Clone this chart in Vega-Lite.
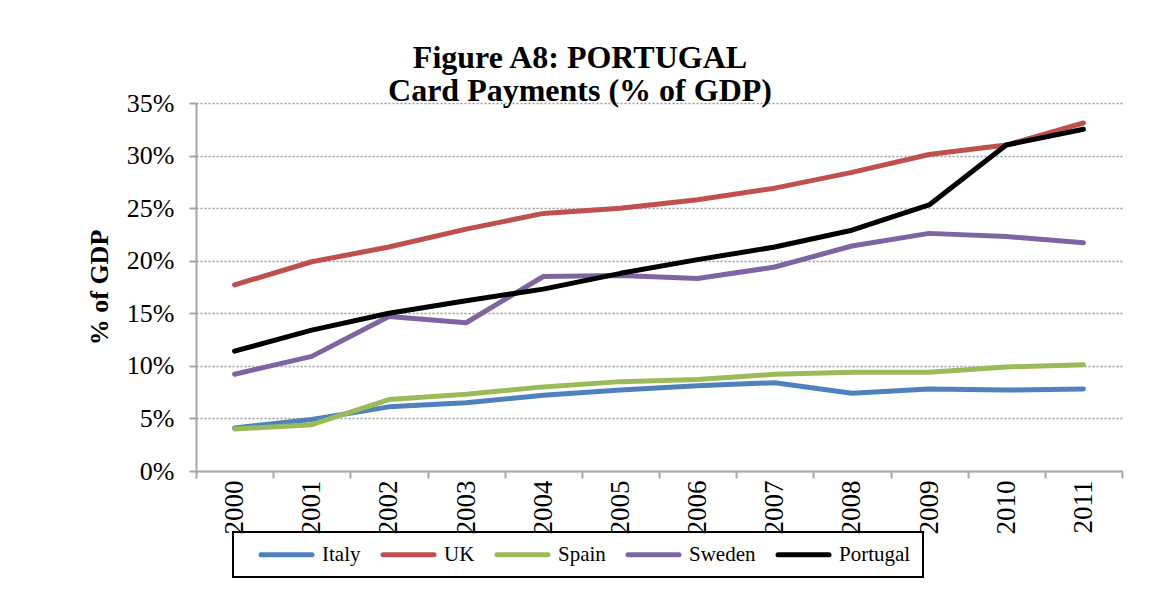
{
  "$schema": "https://vega.github.io/schema/vega-lite/v6.json",
  "width": 926,
  "height": 368,
  "autosize": {"type": "none"},
  "padding": {"left": 196, "top": 103, "right": 29, "bottom": 124},
  "background": "white",
  "title": {
    "text": ["Figure A8: PORTUGAL", "Card Payments (% of GDP)"],
    "font": "Liberation Serif",
    "fontSize": 32,
    "fontWeight": "bold",
    "color": "black",
    "anchor": "middle",
    "offset": -18,
    "lineHeight": 33,
    "dx": -79
  },
  "data": {
    "values": [
      {"year": "2000", "country": "Italy", "v": 4.1},
      {"year": "2001", "country": "Italy", "v": 4.9},
      {"year": "2002", "country": "Italy", "v": 6.1},
      {"year": "2003", "country": "Italy", "v": 6.5},
      {"year": "2004", "country": "Italy", "v": 7.2},
      {"year": "2005", "country": "Italy", "v": 7.7},
      {"year": "2006", "country": "Italy", "v": 8.1},
      {"year": "2007", "country": "Italy", "v": 8.4},
      {"year": "2008", "country": "Italy", "v": 7.4},
      {"year": "2009", "country": "Italy", "v": 7.8},
      {"year": "2010", "country": "Italy", "v": 7.7},
      {"year": "2011", "country": "Italy", "v": 7.8},
      {"year": "2000", "country": "UK", "v": 17.7},
      {"year": "2001", "country": "UK", "v": 19.9},
      {"year": "2002", "country": "UK", "v": 21.3},
      {"year": "2003", "country": "UK", "v": 23.0},
      {"year": "2004", "country": "UK", "v": 24.5},
      {"year": "2005", "country": "UK", "v": 25.0},
      {"year": "2006", "country": "UK", "v": 25.8},
      {"year": "2007", "country": "UK", "v": 26.9},
      {"year": "2008", "country": "UK", "v": 28.4},
      {"year": "2009", "country": "UK", "v": 30.1},
      {"year": "2010", "country": "UK", "v": 31.0},
      {"year": "2011", "country": "UK", "v": 33.1},
      {"year": "2000", "country": "Spain", "v": 4.0},
      {"year": "2001", "country": "Spain", "v": 4.4},
      {"year": "2002", "country": "Spain", "v": 6.8},
      {"year": "2003", "country": "Spain", "v": 7.3},
      {"year": "2004", "country": "Spain", "v": 8.0},
      {"year": "2005", "country": "Spain", "v": 8.5},
      {"year": "2006", "country": "Spain", "v": 8.7},
      {"year": "2007", "country": "Spain", "v": 9.2},
      {"year": "2008", "country": "Spain", "v": 9.4},
      {"year": "2009", "country": "Spain", "v": 9.4},
      {"year": "2010", "country": "Spain", "v": 9.9},
      {"year": "2011", "country": "Spain", "v": 10.1},
      {"year": "2000", "country": "Sweden", "v": 9.2},
      {"year": "2001", "country": "Sweden", "v": 10.9},
      {"year": "2002", "country": "Sweden", "v": 14.7},
      {"year": "2003", "country": "Sweden", "v": 14.1},
      {"year": "2004", "country": "Sweden", "v": 18.5},
      {"year": "2005", "country": "Sweden", "v": 18.6},
      {"year": "2006", "country": "Sweden", "v": 18.3},
      {"year": "2007", "country": "Sweden", "v": 19.4},
      {"year": "2008", "country": "Sweden", "v": 21.4},
      {"year": "2009", "country": "Sweden", "v": 22.6},
      {"year": "2010", "country": "Sweden", "v": 22.3},
      {"year": "2011", "country": "Sweden", "v": 21.7},
      {"year": "2000", "country": "Portugal", "v": 11.4},
      {"year": "2001", "country": "Portugal", "v": 13.4},
      {"year": "2002", "country": "Portugal", "v": 15.0},
      {"year": "2003", "country": "Portugal", "v": 16.2},
      {"year": "2004", "country": "Portugal", "v": 17.3},
      {"year": "2005", "country": "Portugal", "v": 18.8},
      {"year": "2006", "country": "Portugal", "v": 20.1},
      {"year": "2007", "country": "Portugal", "v": 21.3},
      {"year": "2008", "country": "Portugal", "v": 22.9},
      {"year": "2009", "country": "Portugal", "v": 25.3},
      {"year": "2010", "country": "Portugal", "v": 31.0},
      {"year": "2011", "country": "Portugal", "v": 32.5}
    ]
  },
  "mark": {"type": "line", "strokeWidth": 5, "strokeJoin": "round", "strokeCap": "round"},
  "encoding": {
    "x": {
      "field": "year",
      "type": "ordinal",
      "scale": {"paddingInner": 0, "paddingOuter": 0},
      "axis": {
        "title": null,
        "labelAngle": -90,
        "labelFont": "Liberation Serif",
        "labelFontSize": 27,
        "labelColor": "black",
        "labelPadding": 2,
        "tickBand": "extent",
        "tickColor": "#a6a6a6",
        "tickWidth": 2,
        "tickSize": 7,
        "domainColor": "#a6a6a6",
        "domainWidth": 2,
        "grid": false
      }
    },
    "y": {
      "field": "v",
      "type": "quantitative",
      "scale": {"domain": [0, 35], "nice": false},
      "axis": {
        "title": "% of GDP",
        "titleFont": "Liberation Serif",
        "titleFontSize": 26,
        "titleFontWeight": "bold",
        "titleColor": "black",
        "titlePadding": 14,
        "values": [0, 5, 10, 15, 20, 25, 30, 35],
        "labelExpr": "datum.value + '%'",
        "labelFont": "Liberation Serif",
        "labelFontSize": 26,
        "labelColor": "black",
        "labelPadding": 15,
        "tickColor": "#a6a6a6",
        "tickWidth": 2,
        "tickSize": 7,
        "domainColor": "#a6a6a6",
        "domainWidth": 2,
        "grid": true,
        "gridColor": "#999999",
        "gridDash": [2, 2],
        "gridWidth": 1.5
      }
    },
    "color": {
      "field": "country",
      "type": "nominal",
      "sort": ["Italy", "UK", "Spain", "Sweden", "Portugal"],
      "scale": {
        "domain": ["Italy", "UK", "Spain", "Sweden", "Portugal"],
        "range": ["#4F81BD", "#C0504D", "#9BBB59", "#8064A2", "#000000"]
      },
      "legend": {
        "title": null,
        "orient": "none",
        "legendX": 37,
        "legendY": 429,
        "direction": "horizontal",
        "symbolType": "M1.1,0H11.3",
        "symbolStrokeWidth": 5,
        "symbolSize": 100,
        "labelFont": "Liberation Serif",
        "labelFontSize": 21,
        "labelColor": "black",
        "labelOffset": 56,
        "columnPadding": 6,
        "strokeColor": "black",
        "padding": 12,
        "cornerRadius": 0,
        "encode": {"symbols": {"update": {"strokeCap": {"value": "round"}}}}
      }
    }
  },
  "config": {
    "view": {"stroke": null},
    "legend": {"strokeWidth": 2}
  }
}
